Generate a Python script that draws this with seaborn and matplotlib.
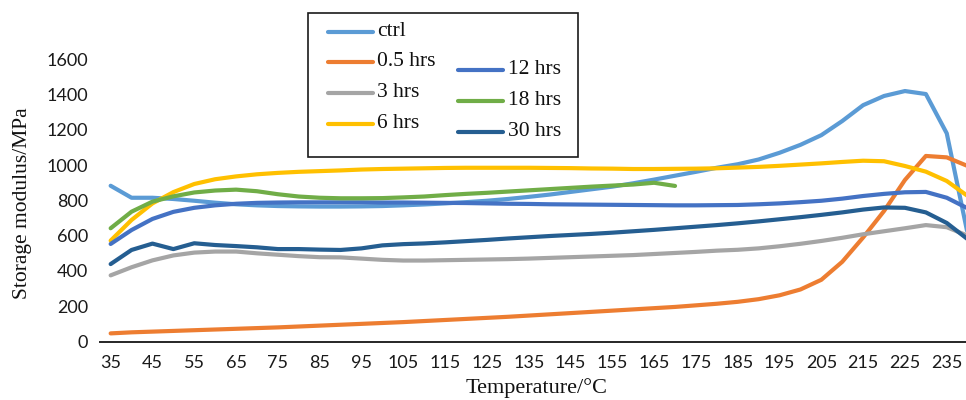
import matplotlib
matplotlib.use("Agg")
import matplotlib.pyplot as plt
from matplotlib.lines import Line2D
from matplotlib.patches import Rectangle
import pandas as pd
import seaborn as sns

# ---- data -------------------------------------------------------------
temperature = list(range(35, 245, 5))          # °C, 35 ... 240

ctrl = [883, 815, 815, 808, 798, 787, 778, 772, 768, 766, 765, 765, 766, 768,
        772, 777, 783, 790, 798, 808, 820, 833, 848, 863, 878, 897, 918, 940,
        962, 985, 1005, 1032, 1070, 1115, 1170, 1250, 1340, 1392, 1420, 1403,
        1180, 610]
hrs_0_5 = [46, 52, 56, 60, 64, 68, 72, 76, 80, 85, 90, 95, 100, 105, 110, 116,
           122, 128, 134, 140, 147, 154, 161, 168, 175, 182, 189, 196, 205, 214,
           225, 240, 262, 295, 350, 452, 590, 740, 916, 1052, 1044, 995]
hrs_3 = [375, 421, 460, 488, 504, 510, 510, 500, 492, 484, 478, 477, 470, 463,
         459, 459, 461, 463, 465, 467, 470, 474, 478, 482, 486, 490, 496, 502,
         508, 515, 520, 528, 540, 554, 570, 588, 608, 625, 642, 660, 648, 600]
hrs_6 = [572, 689, 783, 847, 893, 920, 936, 948, 956, 962, 966, 970, 975, 978,
         980, 982, 984, 985, 985, 985, 985, 984, 983, 981, 980, 978, 978, 979,
         980, 982, 986, 990, 996, 1003, 1010, 1018, 1025, 1022, 995, 963, 910,
         825]
hrs_12 = [553, 632, 695, 735, 758, 772, 781, 786, 788, 789, 789, 789, 789, 788,
          788, 787, 786, 785, 783, 781, 780, 778, 777, 776, 775, 774, 773, 772,
          772, 773, 774, 778, 783, 790, 798, 810, 825, 837, 846, 848, 815, 755]
hrs_18 = [642, 736, 793, 823, 845, 856, 861, 852, 835, 822, 815, 812, 812, 813,
          817, 822, 830, 837, 843, 850, 857, 864, 871, 878, 884, 890, 900, 882]
hrs_30 = [439, 519, 555, 524, 557, 547, 541, 534, 524, 524, 521, 519, 528, 545,
          552, 556, 562, 569, 576, 584, 591, 598, 604, 610, 617, 625, 633, 642,
          651, 660, 670, 681, 693, 705, 718, 732, 748, 760, 758, 732, 672, 580]

series_names = ["ctrl", "0.5 hrs", "3 hrs", "6 hrs", "12 hrs", "18 hrs", "30 hrs"]
series_values = [ctrl, hrs_0_5, hrs_3, hrs_6, hrs_12, hrs_18, hrs_30]
series_colors = ["#5B9BD5", "#ED7D31", "#A5A5A5", "#FFC000",
                 "#4472C4", "#70AD47", "#255E91"]

x_tick_labels = list(range(35, 245, 10))       # 35 ... 235
y_tick_labels = list(range(0, 1800, 200))      # 0 ... 1600

# long-form table for seaborn
rows = []
for name, values in zip(series_names, series_values):
    for t, v in zip(temperature, values):
        rows.append({"Temperature": t, "Modulus": v, "Sample": name})
df = pd.DataFrame(rows)
palette = dict(zip(series_names, series_colors))

# ---- figure -----------------------------------------------------------
sns.set_style("white")
plt.rcParams["font.family"] = ["Liberation Serif", "DejaVu Serif"]

W, H = 966, 400
fig = plt.figure(figsize=(W / 100, H / 100), dpi=100)
ax_left, ax_right, ax_bottom, ax_top = 100.2, 966.0, 341.5, 59.3
ax = fig.add_axes([ax_left / W, 1 - ax_bottom / H,
                   (ax_right - ax_left) / W, (ax_bottom - ax_top) / H])

sns.lineplot(data=df, x="Temperature", y="Modulus", hue="Sample",
             hue_order=series_names, palette=palette, estimator=None,
             sort=False, linewidth=3.0, legend=False, ax=ax)
for ln in ax.lines:
    ln.set_solid_joinstyle("round")
    ln.set_solid_capstyle("round")

ax.set_xlim(32.5, 239.6)
ax.set_ylim(0, 1600)
ax.set_xticks(x_tick_labels)
ax.set_yticks(y_tick_labels)
tick_font = {"family": "Lato", "size": 13, "color": "#1a1a1a"}
ax.set_xticklabels([str(v) for v in x_tick_labels], fontdict=tick_font)
ax.set_yticklabels([str(v) for v in y_tick_labels], fontdict=tick_font)
ax.tick_params(axis="both", length=0)
ax.tick_params(axis="x", pad=9.5)
ax.tick_params(axis="y", pad=8.6)

for side in ("top", "right", "left"):
    ax.spines[side].set_visible(False)
ax.spines["bottom"].set_color("#262626")
ax.spines["bottom"].set_linewidth(1.4)
ax.grid(False)

ax.set_xlabel("Temperature/°C", fontsize=16, color="#111111")
ax.xaxis.label.set_va("center")
ax.xaxis.set_label_coords((537 - ax_left) / (ax_right - ax_left),
                          -(388 - ax_bottom) / (ax_bottom - ax_top))
ax.set_ylabel("Storage modulus/MPa", fontsize=15.5, color="#111111")
ax.yaxis.label.set_va("center")
ax.yaxis.set_label_coords(-(ax_left - 23) / (ax_right - ax_left),
                          (ax_bottom - 203) / (ax_bottom - ax_top))

# ---- legend box (two staggered columns) -----------------------------------
def fx(px):
    return px / W


def fy(py):
    return 1 - py / H


fig.add_artist(Rectangle((fx(308), fy(156.7)), fx(578) - fx(308),
                         fy(13.3) - fy(156.7), transform=fig.transFigure,
                         facecolor="white", edgecolor="#1a1a1a", linewidth=1.2,
                         zorder=5))

legend_columns = [
    (series_names[:4], [31.7, 61.7, 92.7, 124.0], 328.3, 373.3, 377.3),
    (series_names[4:], [70.0, 100.7, 131.7], 458.3, 503.3, 508.3),
]
for names, ys, x0, x1, xt in legend_columns:
    for name, yy in zip(names, ys):
        fig.add_artist(Line2D([fx(x0), fx(x1)], [fy(yy), fy(yy)],
                              transform=fig.transFigure, color=palette[name],
                              linewidth=3.0, solid_capstyle="round", zorder=6))
        fig.text(fx(xt), fy(yy), name, ha="left", va="center",
                 fontsize=15.5, color="#111111", zorder=6)

fig.savefig("out.png", dpi=100)
